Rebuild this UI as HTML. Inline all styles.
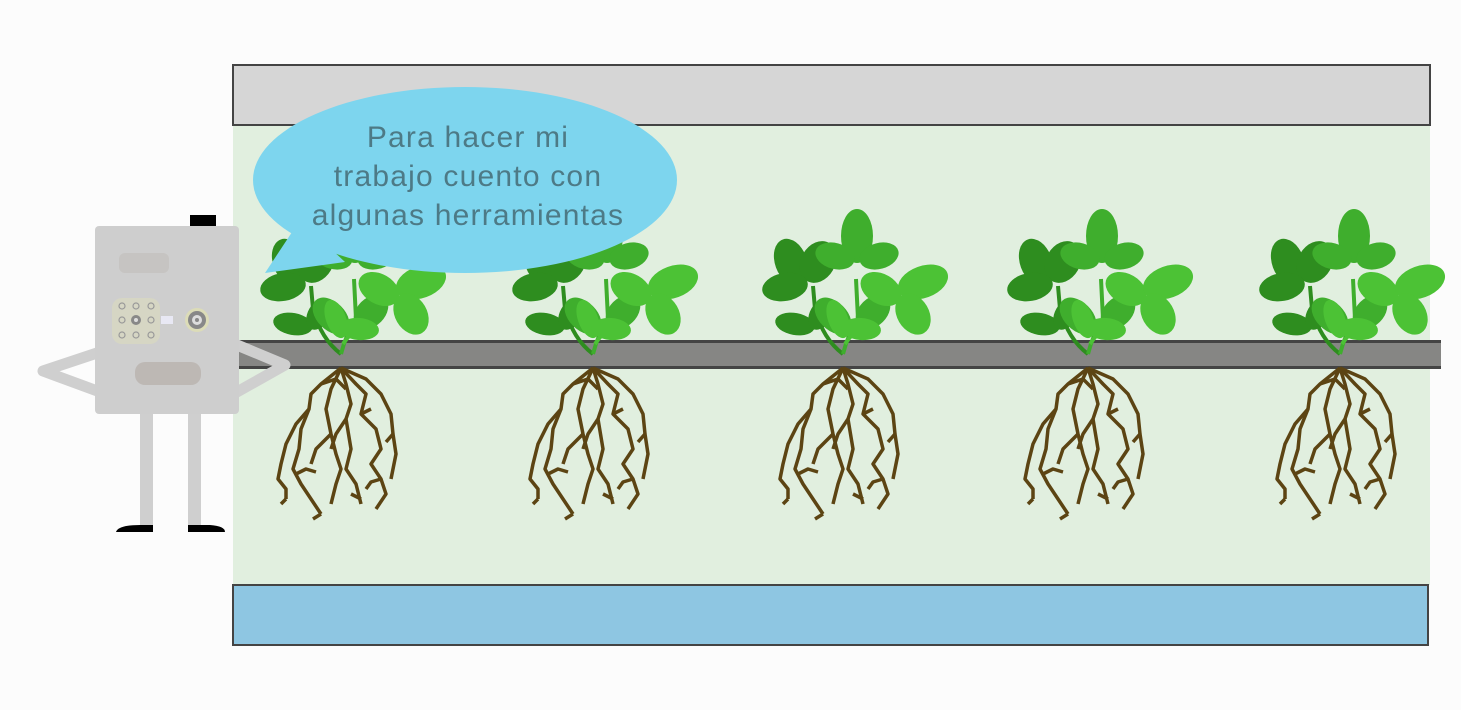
<!DOCTYPE html>
<html><head><meta charset="utf-8"><style>
html,body{margin:0;padding:0;background:#fcfcfc;}
svg{display:block;}
text{font-family:"Liberation Sans",sans-serif;}
</style></head><body>
<svg width="1461" height="710" viewBox="0 0 1461 710" xmlns="http://www.w3.org/2000/svg">
<defs>
<g id="plant">
  <path d="M0,0 Q-20,-15 -28,-45 L-30,-68" stroke="#2e8d1f" stroke-width="4" fill="none"/>
  <path d="M0,0 Q5,-20 15,-35 L13,-75" stroke="#3fae2d" stroke-width="4" fill="none"/>
  <path d="M2,-10 Q15,-30 45,-45" stroke="#4cc235" stroke-width="4" fill="none"/>
  <g fill="#2e8d1f">
    <ellipse cx="-52" cy="-92" rx="16" ry="24" transform="rotate(-20 -52 -92)"/>
    <ellipse cx="-25" cy="-92" rx="17" ry="22" transform="rotate(30 -25 -92)"/>
    <ellipse cx="-58" cy="-67" rx="23" ry="14" transform="rotate(-10 -58 -67)"/>
    <ellipse cx="-48" cy="-30" rx="20" ry="11" transform="rotate(10 -48 -30)"/>
    <ellipse cx="-22" cy="-40" rx="11" ry="17" transform="rotate(30 -22 -40)"/>
  </g>
  <g fill="#3fae2d">
    <ellipse cx="14" cy="-118" rx="16" ry="27"/>
    <ellipse cx="-8" cy="-98" rx="20" ry="13" transform="rotate(15 -8 -98)"/>
    <ellipse cx="36" cy="-98" rx="20" ry="13" transform="rotate(-15 36 -98)"/>
    <ellipse cx="-10" cy="-38" rx="14" ry="22" transform="rotate(-45 -10 -38)"/>
    <ellipse cx="30" cy="-42" rx="14" ry="20" transform="rotate(45 30 -42)"/>
  </g>
  <g fill="#4cc235">
    <ellipse cx="38" cy="-65" rx="22" ry="15" transform="rotate(30 38 -65)"/>
    <ellipse cx="80" cy="-72" rx="26" ry="16" transform="rotate(-20 80 -72)"/>
    <ellipse cx="70" cy="-40" rx="16" ry="22" transform="rotate(-30 70 -40)"/>
    <ellipse cx="-5" cy="-35" rx="10" ry="20" transform="rotate(-20 -5 -35)"/>
    <ellipse cx="18" cy="-25" rx="20" ry="11" transform="rotate(5 18 -25)"/>
  </g>
</g>
<g id="roots" stroke="#5c4413" stroke-width="3.5" fill="none" stroke-linejoin="round">
  <path d="M0,14 L-20,30 L-30,40 L-32,55 L-45,70 L-55,90 L-60,110 L-63,125 L-55,135 L-55,145"/>
  <path d="M0,14 L-10,35 L-15,55 L-10,80 L-5,100 L0,115 L-5,130 L-10,150"/>
  <path d="M0,14 L5,30 L10,50 L5,65 L-5,80 L-10,95"/>
  <path d="M0,14 L15,30 L25,40 L20,60 L35,75 L40,95 L30,110 L40,125 L45,140 L35,155"/>
  <path d="M0,14 L25,25 L40,40 L50,60 L52,80 L55,100 L50,125"/>
  <path d="M-32,55 L-40,75 L-42,95 L-48,115 L-40,130 L-30,145 L-20,160"/>
  <path d="M-10,80 L-25,95 L-30,110"/>
  <path d="M5,65 L10,95 L5,115 L15,130 L20,150"/>
  <path d="M-45,120 L-35,115 L-25,118"/>
  <path d="M-20,30 L-5,25 L5,35"/>
  <path d="M-55,145 L-60,150"/>
  <path d="M-20,160 L-28,165"/>
  <path d="M10,140 L20,145"/>
  <path d="M40,125 L30,128 L25,135"/>
  <path d="M20,60 L30,55"/>
  <path d="M52,80 L45,88"/>
</g>
</defs>
<rect x="233" y="125" width="1197" height="460" fill="#e1efdf"/>
<rect x="233" y="65" width="1197" height="60" fill="#d6d6d6" stroke="#444" stroke-width="2"/>
<rect x="233" y="585" width="1195" height="60" fill="#8ec6e2" stroke="#444" stroke-width="2"/>
<rect x="233" y="341" width="1208" height="27" fill="#868684"/>
<rect x="233" y="340" width="1208" height="3" fill="#444"/>
<rect x="233" y="366" width="1208" height="3" fill="#444"/>
<g transform="translate(341,354)"><use href="#roots"/><use href="#plant"/></g>
<g transform="translate(593,354)"><use href="#roots"/><use href="#plant"/></g>
<g transform="translate(843,354)"><use href="#roots"/><use href="#plant"/></g>
<g transform="translate(1088,354)"><use href="#roots"/><use href="#plant"/></g>
<g transform="translate(1340,354)"><use href="#roots"/><use href="#plant"/></g>
<path d="M300,220 L265,273 L345,262 Z" fill="#7dd5ee"/>
<ellipse cx="465" cy="180" rx="212" ry="93" fill="#7dd5ee"/>
<g fill="#4d7a86" font-size="30" text-anchor="middle" letter-spacing="1.2">
<text x="468" y="147">Para hacer mi</text>
<text x="468" y="186">trabajo cuento con</text>
<text x="468" y="225">algunas herramientas</text>
</g>
<g stroke="#cfcfcf" stroke-width="11" fill="none" stroke-linecap="round" stroke-linejoin="round">
  <path d="M100,352 L43,371 L100,392"/>
  <path d="M237,345 L285,365 L237,392"/>
</g>
<rect x="140" y="410" width="13" height="118" fill="#cfcfcf"/>
<rect x="188" y="410" width="13" height="118" fill="#cfcfcf"/>
<path d="M116,532 Q118,525 140,525 L153,525 L153,532 Z" fill="#000"/>
<path d="M188,525 L210,525 Q225,526 225,532 L188,532 Z" fill="#000"/>
<rect x="190" y="215" width="26" height="11" fill="#000"/>
<rect x="95" y="226" width="144" height="188" rx="4" fill="#cecece"/>
<rect x="119" y="253" width="50" height="20" rx="6" fill="#c6c4c2"/>
<rect x="112" y="298" width="48" height="46" rx="10" fill="#d6d6c4"/>
<g fill="none" stroke="#999" stroke-width="1.2">
  <circle cx="122" cy="306" r="3"/><circle cx="136" cy="306" r="3"/><circle cx="151" cy="306" r="3"/>
  <circle cx="122" cy="320" r="3"/><circle cx="151" cy="320" r="3"/>
  <circle cx="122" cy="335" r="3"/><circle cx="136" cy="335" r="3"/><circle cx="151" cy="335" r="3"/>
</g>
<circle cx="136" cy="320" r="5" fill="#888"/><circle cx="136" cy="320" r="2" fill="#ddd"/>
<rect x="161" y="316" width="12" height="8" fill="#e8e8f4"/>
<circle cx="197" cy="320" r="12" fill="#dcdcb8"/>
<circle cx="197" cy="320" r="9" fill="#888"/><circle cx="197" cy="320" r="5" fill="#ddd"/><circle cx="197" cy="320" r="2" fill="#888"/>
<rect x="135" y="362" width="66" height="23" rx="10" fill="#bdb8b4"/>
</svg>
</body></html>
